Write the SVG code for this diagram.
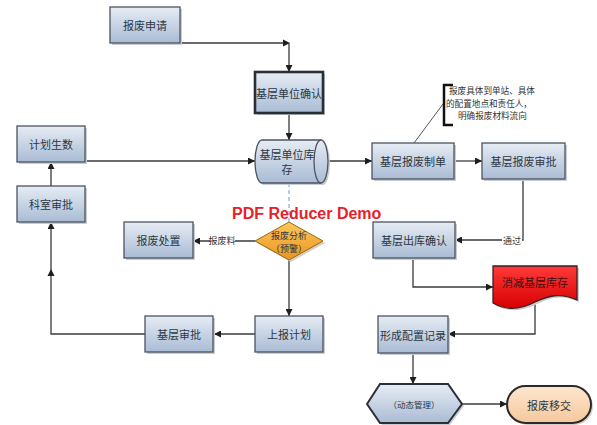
<svg xmlns="http://www.w3.org/2000/svg" width="597" height="425" viewBox="0 0 597 425">
<defs>
<linearGradient id="gBlue" x1="0" y1="0" x2="0" y2="1"><stop offset="0" stop-color="#e6ecf4"/><stop offset="1" stop-color="#a9bbd4"/></linearGradient>
<linearGradient id="gOrange" x1="0" y1="0" x2="0" y2="1"><stop offset="0" stop-color="#fbc85a"/><stop offset="1" stop-color="#ea9420"/></linearGradient>
<linearGradient id="gRed" x1="0" y1="0" x2="0" y2="1"><stop offset="0" stop-color="#ff3a3a"/><stop offset="1" stop-color="#d80000"/></linearGradient>
<linearGradient id="gPeach" x1="0" y1="0" x2="0" y2="1"><stop offset="0" stop-color="#fde6cf"/><stop offset="1" stop-color="#f6c89c"/></linearGradient>
<marker id="arr" viewBox="0 0 10 10" refX="10" refY="5" markerWidth="7" markerHeight="7" orient="auto" markerUnits="userSpaceOnUse"><path d="M0,0 L10,5 L0,10 Z" fill="#1e1e1e"/></marker>
<style>
.box{fill:url(#gBlue);stroke:#4c5460;stroke-width:1.3}
.shadow{fill:#c9cdd3}
.t{font-family:"Noto Sans CJK SC","Liberation Sans",sans-serif;font-size:11px;fill:#2c3744;text-anchor:middle;dominant-baseline:central}
.s{font-size:9px}
.c{fill:none;stroke:#3a3a3a;stroke-width:1.3}
.lbl{font-family:"Noto Sans CJK SC","Liberation Sans",sans-serif;font-size:9px;fill:#333;text-anchor:middle;dominant-baseline:central}
.ann{font-family:"Noto Sans CJK SC","Liberation Sans",sans-serif;font-size:8.6px;fill:#333}
</style>
</defs>
<rect width="597" height="425" fill="#ffffff"/>

<g id="connectors">
<path class="c" d="M180,43 H283"/>
<path d="M283,39.5 L290,43 L283,46.5 Z" fill="#1e1e1e"/>
<path class="c" d="M289,43 V72" marker-end="url(#arr)"/>
<path class="c" d="M289,113 V140" marker-end="url(#arr)"/>
<path class="c" d="M85,161 H255" marker-end="url(#arr)"/>
<path class="c" d="M51,186 V162" marker-end="url(#arr)"/>
<path class="c" d="M328,161 H372" marker-end="url(#arr)"/>
<path class="c" d="M455,161 H482" marker-end="url(#arr)"/>
<path class="c" d="M523,179 V240 H455" marker-end="url(#arr)"/>
<path class="c" d="M413,258 V287 H493" marker-end="url(#arr)"/>
<path class="c" d="M535,304 V334 H448" marker-end="url(#arr)"/>
<path class="c" d="M413,353 V384" marker-end="url(#arr)"/>
<path class="c" d="M462,404 H507" marker-end="url(#arr)"/>
<path class="c" d="M255,241 H193" marker-end="url(#arr)"/>
<path class="c" d="M289,260 V316" marker-end="url(#arr)"/>
<path class="c" d="M255,334 H214" marker-end="url(#arr)"/>
<path class="c" d="M145,334 H51 V222" marker-end="url(#arr)"/>
<path d="M47.5,276 L51,269 L54.5,276 Z" fill="#1e1e1e"/>
<path d="M289,183 V222" fill="none" stroke="#8fb4d8" stroke-width="1.3" stroke-dasharray="4,3"/>
<path d="M414,143 L443,104" fill="none" stroke="#555" stroke-width="1"/>
<rect x="210" y="234" width="25" height="13" fill="#ffffff"/>
<text class="lbl" x="222" y="240.5">报废料</text>
<rect x="502" y="234" width="20" height="13" fill="#ffffff"/>
<text class="lbl" x="512" y="240.5">通过</text>
</g>

<g id="n-apply"><rect class="shadow" x="112" y="9" width="70" height="36"/><rect class="box" x="110" y="7" width="70" height="36"/><text class="t" x="145" y="25">报废申请</text></g>
<g id="n-confirm"><rect class="shadow" x="257" y="74" width="68" height="41"/><rect class="box" x="255" y="72" width="68" height="41" style="stroke:#2a2f36;stroke-width:2.6"/><text class="t" x="289" y="92.5">基层单位确认</text></g>
<g id="n-stock"><path class="shadow" d="M264,142 H323 A7,21.5 0 0 1 323,185 H264 A7,21.5 0 0 1 264,142 Z"/><path class="box" d="M262,140 H321 A7,21.5 0 0 1 321,183 H262 A7,21.5 0 0 1 262,140 Z"/><path d="M321,140 A7,21.5 0 0 0 321,183" fill="none" stroke="#4c5460" stroke-width="1.3"/><text class="t" x="287" y="154">基层单位库</text><text class="t" x="287" y="169">存</text></g>
<g id="n-plan"><rect class="shadow" x="19" y="128" width="68" height="36"/><rect class="box" x="17" y="126" width="68" height="36"/><text class="t" x="51" y="144">计划生数</text></g>
<g id="n-dept"><rect class="shadow" x="19" y="188" width="68" height="36"/><rect class="box" x="17" y="186" width="68" height="36"/><text class="t" x="51" y="204">科室审批</text></g>
<g id="n-dispose"><rect class="shadow" x="126" y="224" width="69" height="36"/><rect class="box" x="124" y="222" width="69" height="36"/><text class="t" x="158.5" y="240">报废处置</text></g>
<g id="n-analysis"><polygon points="291,224 325,243 291,262 257,243" fill="#d6cfc4"/><polygon points="289,222 323,241 289,260 255,241" fill="url(#gOrange)" stroke="#9a6a1a" stroke-width="1"/><text class="t s" x="289" y="235">报废分析</text><text class="t s" x="289" y="248">（预警）</text></g>
<g id="n-base-approve"><rect class="shadow" x="147" y="318" width="68" height="36"/><rect class="box" x="145" y="316" width="68" height="36"/><text class="t" x="179" y="334">基层审批</text></g>
<g id="n-report"><rect class="shadow" x="257" y="318" width="68" height="36"/><rect class="box" x="255" y="316" width="68" height="36"/><text class="t" x="289" y="334">上报计划</text></g>
<g id="n-form"><rect class="shadow" x="374" y="145" width="82" height="36"/><rect class="box" x="372" y="143" width="82" height="36"/><text class="t" x="413" y="161">基层报废制单</text></g>
<g id="n-scrap-approve"><rect class="shadow" x="484" y="145" width="83" height="36"/><rect class="box" x="482" y="143" width="83" height="36"/><text class="t" x="523.5" y="161">基层报废审批</text></g>
<g id="n-out"><rect class="shadow" x="375" y="224" width="82" height="36"/><rect class="box" x="373" y="222" width="82" height="36"/><text class="t" x="414" y="240">基层出库确认</text></g>
<g id="n-reduce"><path d="M495,268 H579 V302 C562,294 550,298 537,304 C522,312 507,312 495,305 Z" fill="#c9cdd3"/><path d="M493,266 H577 V300 C560,292 548,296 535,302 C520,310 505,310 493,303 Z" fill="url(#gRed)" stroke="#3a2020" stroke-width="1.3"/><text class="t" x="535" y="282" style="fill:#3a1010">消减基层库存</text></g>
<g id="n-record"><rect class="shadow" x="380" y="318" width="70" height="37"/><rect class="box" x="378" y="316" width="70" height="37"/><text class="t" x="413" y="334.5">形成配置记录</text></g>
<g id="n-dynamic"><polygon points="369,406 382,386 450,386 464,406 450,425 382,425" fill="#c9cdd3"/><polygon points="367,404 380,384 448,384 462,404 448,423 380,423" fill="url(#gBlue)" stroke="#2a2f36" stroke-width="2"/><text class="t" x="414" y="404" style="font-size:8.5px">（动态管理）</text></g>
<g id="n-transfer"><rect x="509" y="388" width="84" height="37" rx="18.5" fill="#d6d0c8"/><rect x="507" y="386" width="84" height="37" rx="18.5" fill="url(#gPeach)" stroke="#2a2a2a" stroke-width="2"/><text class="t" x="549" y="404.5">报废移交</text></g>

<g id="annotation">
<path d="M453,85 H444 V125 H453" fill="none" stroke="#111" stroke-width="2.5"/>
<text class="ann" x="449" y="94">报废具体到单站、具体</text>
<text class="ann" x="446" y="106.5">的配置地点和责任人，</text>
<text class="ann" x="458" y="119">明确报废材料流向</text>
</g>

<text x="232" y="219" style="font-family:'Liberation Sans',Arial,sans-serif;font-size:16px;font-weight:bold;fill:#e8202a">PDF Reducer Demo</text>
</svg>
